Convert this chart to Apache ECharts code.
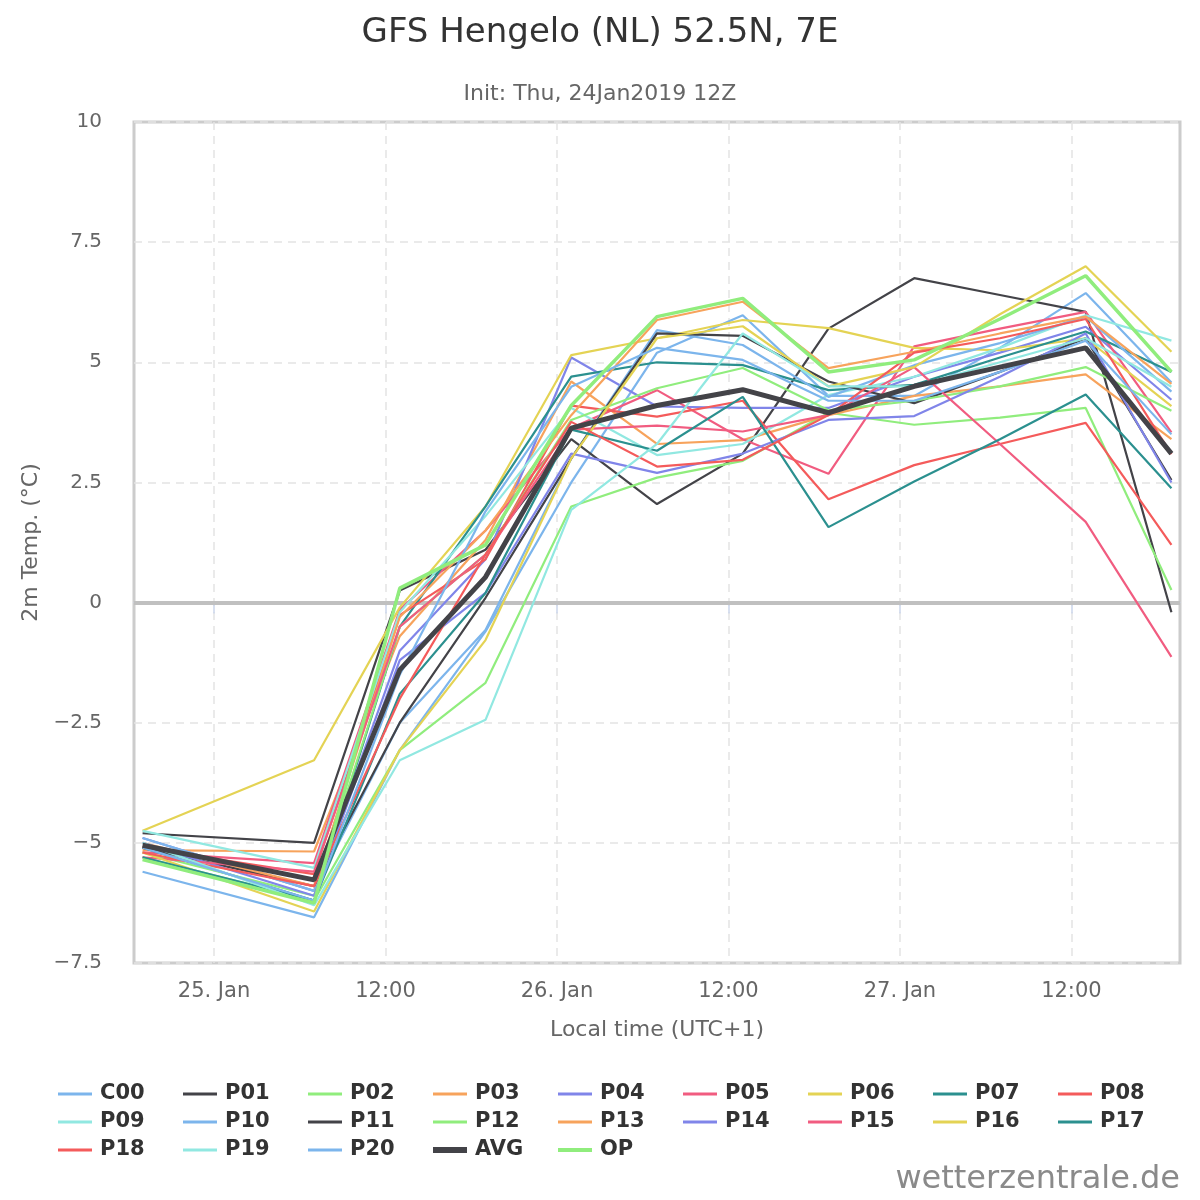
<!DOCTYPE html>
<html><head><meta charset="utf-8">
<script src="https://cdn.jsdelivr.net/npm/echarts@6/dist/echarts.min.js"></script>
<style>html,body{margin:0;padding:0;background:#fff}#c{width:1200px;height:1200px}</style>
</head><body><div id="c"></div>
<script>
// hours since 25 Jan 2019 00:00 local time (UTC+1)
const hours = [-5, 7, 13, 19, 25, 31, 37, 43, 49, 55, 61, 67];
const tickHours = [0, 12, 24, 36, 48, 60];
const tickLabels = ['25. Jan', '12:00', '26. Jan', '12:00', '27. Jan', '12:00'];

const seriesNames = ['C00','P01','P02','P03','P04','P05','P06','P07','P08','P09','P10','P11','P12','P13','P14','P15','P16','P17','P18','P19','P20','AVG','OP'];

const C00 = [-5.6, -6.55, -3.07, -0.6, 2.5, 5.2, 5.98, 4.3, 4.3, 5.3, 6.44, 4.58];
const P01 = [-4.8, -5.0, 0.25, 1.1, 3.4, 2.05, 3.1, 5.7, 6.75, 6.4, 6.05, -0.2];
const P02 = [-5.3, -6.2, -3.07, -1.67, 2.0, 2.6, 2.95, 3.95, 3.7, 3.85, 4.05, 0.26];
const P03 = [-5.15, -5.18, -0.7, 1.3, 4.6, 3.3, 3.38, 3.9, 4.3, 4.5, 4.75, 3.4];
const P04 = [-4.9, -6.0, -1.0, 0.9, 5.1, 4.08, 4.05, 4.05, 4.7, 5.2, 5.74, 4.22];
const P05 = [-5.2, -5.42, -0.15, 1.5, 3.63, 4.42, 3.4, 2.68, 5.33, 5.7, 6.05, 3.54];
const P06 = [-4.75, -3.28, -0.1, 2.0, 5.15, 5.5, 5.88, 5.71, 5.3, 5.25, 5.5, 4.09];
const P07 = [-5.1, -6.2, -0.5, 2.0, 4.7, 5.0, 4.94, 4.42, 4.53, 5.1, 5.64, 4.8];
const P08 = [-5.1, -5.65, -0.26, 0.9, 4.1, 3.87, 4.2, 2.15, 2.86, 3.3, 3.74, 1.2];
const P09 = [-4.75, -5.52, -0.2, 1.8, 4.05, 3.07, 3.3, 4.32, 4.7, 5.3, 5.98, 5.45];
const P10 = [-4.9, -6.0, -2.5, -0.57, 3.0, 5.67, 5.36, 4.28, 4.94, 5.4, 5.95, 4.39];
const P11 = [-5.1, -5.9, -2.5, 0.1, 3.0, 5.6, 5.55, 4.6, 4.15, 4.8, 5.5, 2.55];
const P12 = [-5.2, -6.1, -0.5, 1.0, 3.8, 4.46, 4.88, 4.0, 4.2, 4.5, 4.9, 3.99];
const P13 = [-5.0, -5.9, -0.3, 1.5, 3.9, 5.88, 6.26, 4.88, 5.22, 5.6, 5.95, 4.55];
const P14 = [-5.0, -6.1, -1.2, 0.2, 3.1, 2.7, 3.1, 3.8, 3.88, 4.7, 5.6, 2.5];
const P15 = [-5.3, -5.6, -0.5, 1.0, 3.6, 3.68, 3.56, 3.9, 4.9, 3.3, 1.68, -1.13];
const P16 = [-5.2, -6.43, -3.07, -0.78, 3.0, 5.5, 5.75, 4.5, 4.9, 6.0, 7.0, 5.22];
const P17 = [-5.3, -6.2, -1.9, 0.2, 3.6, 3.16, 4.28, 1.57, 2.52, 3.4, 4.33, 2.38];
const P18 = [-5.2, -5.9, -2.0, 1.0, 3.76, 2.83, 2.97, 3.9, 5.2, 5.5, 5.9, 3.09];
const P19 = [-5.0, -6.3, -3.28, -2.44, 1.93, 3.3, 5.6, 4.5, 4.5, 5.0, 5.5, 4.49];
const P20 = [-5.1, -6.2, -1.5, 1.9, 4.49, 5.3, 5.05, 4.2, 4.2, 4.8, 5.45, 3.5];
const AVG = [-5.05, -5.77, -1.4, 0.53, 3.63, 4.1, 4.43, 3.95, 4.5, 4.9, 5.3, 3.1];
const OP  = [-5.35, -6.25, 0.3, 1.2, 4.1, 5.95, 6.33, 4.8, 5.05, 5.9, 6.8, 4.8];

const seriesValues = [C00,P01,P02,P03,P04,P05,P06,P07,P08,P09,P10,P11,P12,P13,P14,P15,P16,P17,P18,P19,P20,AVG,OP];

const palette = ['#7cb5ec','#434348','#90ed7d','#f7a35c','#8085e9','#f15c80','#e4d354','#2b908f','#f45b5b','#91e8e1'];
const FONT = 'DejaVu Sans';

function styleFor(name, i) {
  if (name === 'AVG') return { color: '#434348', width: 5, icon: 6 };
  if (name === 'OP') return { color: '#90ed7d', width: 3.5, icon: 4 };
  return { color: palette[i % 10], width: 2.2, icon: 3 };
}

const series = seriesNames.map((name, i) => {
  const st = styleFor(name, i);
  const s = {
    name: name,
    type: 'line',
    symbol: 'none',
    showSymbol: false,
    animation: false,
    color: st.color,
    itemStyle: { color: st.color },
    lineStyle: { color: st.color, width: st.width },
    data: hours.map((h, k) => [h, seriesValues[i][k]]),
    z: 3
  };
  if (i === 0) {
    s.markLine = {
      silent: true, symbol: 'none', label: { show: false },
      lineStyle: { color: '#c0c0c0', width: 4, type: 'solid' },
      data: [{ yAxis: 0 }],
      z: 1
    };
  }
  return s;
});

const legends = seriesNames.map((name, i) => {
  const st = styleFor(name, i);
  const col = i % 9, row = Math.floor(i / 9);
  return {
    data: [{ name: name, icon: 'rect' }],
    left: 58 + 125 * col,
    top: 1083 + 28 * row,
    itemWidth: 34,
    itemHeight: st.icon,
    selectedMode: false,
    padding: 0,
    itemStyle: { color: st.color, borderWidth: 0 },
    lineStyle: { width: 0 },
    textStyle: { fontFamily: FONT, fontSize: 21, fontWeight: 'bold', color: '#333', lineHeight: 22, padding: [0, 0, 0, 3] }
  };
});

const chart = echarts.init(document.getElementById('c'), null, { renderer: 'canvas' });
chart.setOption({
  backgroundColor: '#fff',
  animation: false,
  title: [
    { text: 'GFS Hengelo (NL) 52.5N, 7E', left: 'center', top: 11,
      textStyle: { fontFamily: FONT, fontSize: 34, fontWeight: 'normal', color: '#333' } },
    { text: 'Init: Thu, 24Jan2019 12Z', left: 'center', top: 78,
      textStyle: { fontFamily: FONT, fontSize: 22, fontWeight: 'normal', color: '#666' } }
  ],
  grid: { left: 134, right: 20, top: 122, bottom: 237, show: true, borderColor: '#cccccc', borderWidth: 3, containLabel: false },
  legend: legends,
  xAxis: {
    type: 'value',
    min: -5.6, max: 67.6,
    name: 'Local time (UTC+1)',
    nameLocation: 'middle',
    nameGap: 56,
    nameTextStyle: { fontFamily: FONT, fontSize: 22, color: '#666' },
    axisLine: { show: true, lineStyle: { color: '#ccd6eb', width: 1 } },
    axisTick: { show: true, customValues: tickHours, length: 11, lineStyle: { color: '#ccd6eb', width: 1.5 } },
    axisLabel: {
      customValues: tickHours,
      margin: 18,
      fontFamily: FONT, fontSize: 21, color: '#666',
      formatter: v => { const k = tickHours.indexOf(v); return k >= 0 ? tickLabels[k] : ''; }
    },
    splitLine: { show: true, lineStyle: { color: '#e3e3e3', width: 1.5, type: [8, 6] } }
  },
  yAxis: {
    type: 'value',
    min: -7.5, max: 10, interval: 2.5,
    name: '2m Temp. (°C)',
    nameLocation: 'middle',
    nameGap: 86,
    nameRotate: 90,
    nameTextStyle: { fontFamily: FONT, fontSize: 22, color: '#666' },
    axisLine: { show: false },
    axisTick: { show: false },
    axisLabel: {
      margin: 32,
      fontFamily: FONT, fontSize: 20, color: '#666',
      formatter: v => String(v).replace('-', '\u2212')
    },
    splitLine: { show: true, lineStyle: { color: '#e3e3e3', width: 1.5, type: [8, 6] } }
  },
  graphic: [
    { type: 'text', right: 20, bottom: 4,
      style: { text: 'wetterzentrale.de', fontFamily: FONT, fontSize: 32, fill: '#8a8a8a' } }
  ],
  series: series
});
</script>
</body></html>
